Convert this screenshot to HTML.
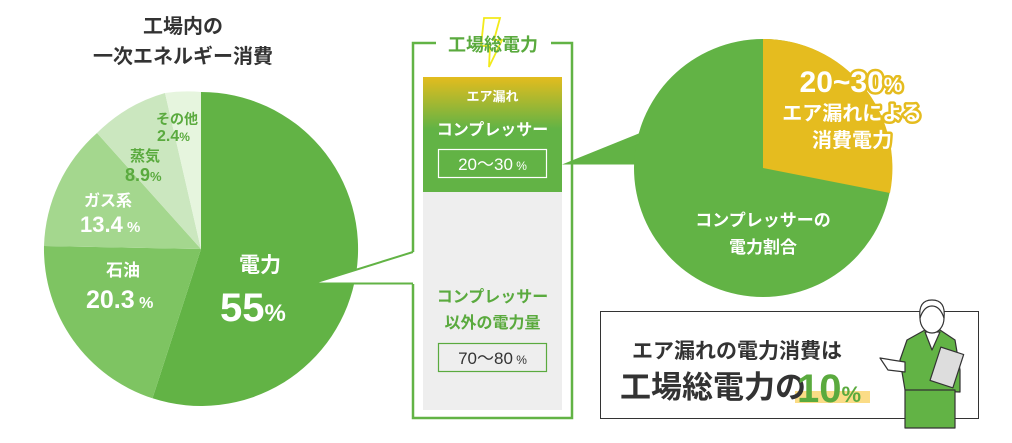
<!DOCTYPE html>
<html><head><meta charset="utf-8"><style>
html,body{margin:0;padding:0;background:#fff;}
svg{display:block;font-family:"Liberation Sans","Noto Sans CJK JP",sans-serif;font-weight:bold;}
</style></head><body>
<svg width="1012" height="443" viewBox="0 0 1012 443" xmlns="http://www.w3.org/2000/svg">
<defs>
<linearGradient id="g1" x1="0" y1="0" x2="0" y2="1">
<stop offset="0" stop-color="#e3bc1e"/><stop offset="0.45" stop-color="#62b345"/><stop offset="1" stop-color="#62b345"/>
</linearGradient>
</defs>
<text x="183" y="33" font-size="20" fill="#333" text-anchor="middle">工場内の</text>
<text x="183" y="63" font-size="20" fill="#333" text-anchor="middle">一次エネルギー消費</text>
<g>
<path d="M201,249 L201,92 A157,157 0 1 1 152.5,398.3 Z" fill="#62b345"/>
<path d="M201,249 L152.5,398.3 A157,157 0 0 1 44,246 Z" fill="#7ec462"/>
<path d="M201,249 L44,246 A157,157 0 0 1 97,133 Z" fill="#a4d78e"/>
<path d="M201,249 L97,133 A157,157 0 0 1 165,93 Z" fill="#cbe7bf"/>
<path d="M201,249 L165,93 A157,157 0 0 1 201,92 Z" fill="#e6f5de"/>
</g>
<text x="260" y="272" font-size="21" fill="#fff" text-anchor="middle">電力</text>
<text x="220" y="321" font-size="40" fill="#fff">55<tspan font-size="24">%</tspan></text>
<text x="123" y="276" font-size="17" fill="#fff" text-anchor="middle">石油</text>
<text x="86" y="308" font-size="25" fill="#fff">20.3<tspan font-size="16"> %</tspan></text>
<text x="108" y="206" font-size="16" fill="#fff" text-anchor="middle">ガス系</text>
<text x="80" y="232" font-size="22" fill="#fff">13.4<tspan font-size="15"> %</tspan></text>
<text x="145" y="161" font-size="15" fill="#5aaa3e" text-anchor="middle">蒸気</text>
<text x="125" y="181" font-size="18" fill="#5aaa3e">8.9<tspan font-size="13">%</tspan></text>
<text x="177" y="124" font-size="14" fill="#5aaa3e" text-anchor="middle">その他</text>
<text x="157" y="141" font-size="16" fill="#5aaa3e">2.4<tspan font-size="12">%</tspan></text>
<path d="M436,43 L413,43 L413,252 M413,284 L413,418 L572,418 L572,43 L551,43" fill="none" stroke="#62b345" stroke-width="2.5"/>
<path d="M413,252 L312,283.5 L413,283.5" fill="#fff" stroke="#62b345" stroke-width="2"/>
<path d="M484,18 L500,18 L494,40 L502,40 L489,67 L490,46 L481,46 Z" fill="none" stroke="#f2ea1a" stroke-width="1.8"/>
<text x="493" y="51" font-size="18" fill="#5aaa3e" text-anchor="middle">工場総電力</text>
<rect x="423" y="77" width="139" height="115" fill="url(#g1)"/>
<rect x="423" y="192" width="139" height="218" fill="#eeeeee"/>
<text x="492.5" y="101" font-size="13" fill="#fff" text-anchor="middle">エア漏れ</text>
<text x="492.5" y="135" font-size="16" fill="#fff" text-anchor="middle">コンプレッサー</text>
<rect x="438.5" y="149.5" width="108" height="28" fill="none" stroke="#fff" stroke-width="1.2"/>
<text x="492.5" y="170" font-size="17" font-weight="normal" fill="#fff" text-anchor="middle">20〜30<tspan font-size="12"> %</tspan></text>
<text x="492.5" y="302" font-size="16" fill="#5aaa3e" text-anchor="middle">コンプレッサー</text>
<text x="492.5" y="328" font-size="16" fill="#5aaa3e" text-anchor="middle">以外の電力量</text>
<rect x="438.5" y="343.5" width="108" height="28" fill="none" stroke="#5aaa3e" stroke-width="1.2"/>
<text x="492.5" y="364" font-size="17" font-weight="normal" fill="#333" text-anchor="middle">70〜80<tspan font-size="12"> %</tspan></text>
<path d="M562,164.5 L640,133 L640,164.5 Z" fill="#62b345"/>
<circle cx="763" cy="168" r="129" fill="#62b345"/>
<path d="M763,168 L763,39 A129,129 0 0 1 890,193 Z" fill="#e5bc1f"/>
<g fill="#fff" stroke="#e5bc1f" stroke-width="5" paint-order="stroke" stroke-linejoin="round" text-anchor="middle">
<text x="851" y="92" font-size="30">20~30<tspan font-size="21">%</tspan></text>
<text x="852" y="120" font-size="20">エア漏れによる</text>
<text x="852" y="147" font-size="20">消費電力</text>
</g>
<text x="763" y="226" font-size="17" fill="#fff" text-anchor="middle">コンプレッサーの</text>
<text x="763" y="253" font-size="17" fill="#fff" text-anchor="middle">電力割合</text>
<rect x="600.5" y="311.5" width="378" height="107" fill="#fff" stroke="#333" stroke-width="1"/>
<text x="737" y="358" font-size="21" fill="#333" text-anchor="middle">エア漏れの電力消費は</text>
<rect x="795" y="391" width="75" height="12" fill="#fbdc86"/>
<text x="620" y="398" font-size="31" fill="#333">工場総電力の</text>
<text x="797" y="402" font-size="40" fill="#5aaa3e">10<tspan font-size="22">%</tspan></text>
<g stroke="#333" stroke-width="1.2" stroke-linejoin="round">
<path d="M905,390 L900,360 L907,340 L925,330 L940,330 L955,340 L960,370 L960,392 Z" fill="#62b345"/>
<rect x="905" y="390" width="50" height="38" fill="#62b345"/>
<path d="M925,332 L932,350 L940,332 Z" fill="#fff"/>
<ellipse cx="932" cy="318" rx="12" ry="15" fill="#fff"/>
<path d="M920,318 Q918,300 932,300 Q946,300 944,318 Q940,306 932,306 Q924,306 920,318 Z" fill="#fff"/>
<path d="M880,358 L888,370 L905,372 L905,362 L892,360 Z" fill="#fff"/>
<rect x="935" y="350" width="24" height="35" fill="#ddd" transform="rotate(18 947 367)"/>
</g>
</svg>
</body></html>
